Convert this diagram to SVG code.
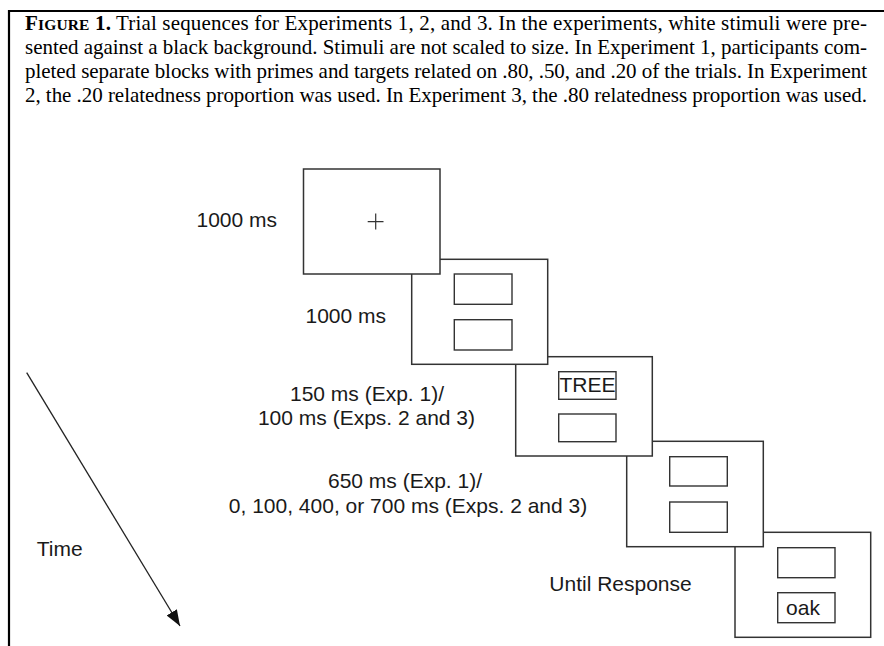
<svg xmlns="http://www.w3.org/2000/svg" width="884" height="646" viewBox="0 0 884 646">
<defs>
<style>
.cap{font-family:"Liberation Serif","Times New Roman",serif;font-size:21px;fill:#000}
.b{font-weight:bold}
.lbl{font-family:"Liberation Sans",Arial,sans-serif;font-size:21px;fill:#1a1a1a}
.scr{fill:#fff;stroke:#333;stroke-width:1.5}
.win{fill:#fff;stroke:#333;stroke-width:1.4}
.frame{stroke:#000;stroke-width:2.2;fill:none}
.conn{stroke:#222;stroke-width:1.3;fill:none}
</style>
<marker id="ahb" viewBox="0 0 16 12" refX="16" refY="6" markerWidth="16" markerHeight="12" markerUnits="userSpaceOnUse" orient="auto">
<path d="M0,0 L16,6 L0,12 z" fill="#111"/>
</marker>
</defs>
<rect x="0" y="0" width="884" height="646" fill="#fff"/>
<g id="frame">
<path class="frame" d="M9,646 V11 H884"/>
</g>
<g id="caption">
<text class="cap" x="25" y="30" textLength="842" lengthAdjust="spacing"><tspan class="b">F</tspan><tspan class="b" font-size="15.5">IGURE</tspan><tspan class="b"> 1.</tspan>  Trial sequences for Experiments 1, 2, and 3. In the experiments, white stimuli were pre-</text>
<text class="cap" x="25" y="54" textLength="842" lengthAdjust="spacing">sented against a black background. Stimuli are not scaled to size. In Experiment 1, participants com-</text>
<text class="cap" x="25" y="78" textLength="842" lengthAdjust="spacing">pleted separate blocks with primes and targets related on .80, .50, and .20 of the trials. In Experiment</text>
<text class="cap" x="25" y="102" textLength="842" lengthAdjust="spacing">2, the .20 relatedness proportion was used. In Experiment 3, the .80 relatedness proportion was used.</text>
</g>
<g id="screen5">
<rect class="scr" x="735" y="532.3" width="135.7" height="105"/>
<rect class="win" x="777.7" y="547.7" width="57.3" height="30"/>
<rect class="win" x="777.7" y="592.7" width="57.3" height="30"/>
<text class="lbl" x="803" y="614.5" font-size="23" text-anchor="middle">oak</text>
</g>
<g id="screen4">
<rect class="scr" x="626.7" y="441.3" width="136.6" height="105.4"/>
<rect class="win" x="669.7" y="456.7" width="57.6" height="29.3"/>
<rect class="win" x="669.7" y="502" width="57.6" height="30.3"/>
</g>
<g id="screen3">
<rect class="scr" x="515.7" y="356.7" width="136.6" height="99.3"/>
<rect class="win" x="558.7" y="371.7" width="57.3" height="27.6"/>
<rect class="win" x="558.7" y="414" width="57.3" height="27.7"/>
<text class="lbl" x="587.5" y="392" font-size="17.5" text-anchor="middle">TREE</text>
</g>
<g id="screen2">
<rect class="scr" x="411.7" y="259.3" width="136" height="105"/>
<rect class="win" x="454.3" y="274" width="57.7" height="30.3"/>
<rect class="win" x="454.3" y="319.7" width="57.7" height="30.3"/>
</g>
<g id="screen1">
<rect class="scr" x="303.5" y="169" width="136.5" height="105"/>
<path d="M367.7,221.7 H383.5 M375.7,213.5 V229.5" stroke="#333" stroke-width="1.2"/>
</g>
<g id="labels">
<text class="lbl" x="196.5" y="226.7" font-size="20.7">1000 ms</text>
<text class="lbl" x="305.5" y="322.7" font-size="20.7">1000 ms</text>
<text class="lbl" x="367" y="401" text-anchor="middle">150 ms (Exp. 1)/</text>
<text class="lbl" x="366.5" y="425" text-anchor="middle">100 ms (Exps. 2 and 3)</text>
<text class="lbl" x="405" y="488" text-anchor="middle">650 ms (Exp. 1)/</text>
<text class="lbl" x="408" y="513" text-anchor="middle" font-size="21.3">0, 100, 400, or 700 ms (Exps. 2 and 3)</text>
<text class="lbl" x="549.3" y="590.7" font-size="21.6">Until Response</text>
<text class="lbl" x="36.7" y="556" font-size="20.3">Time</text>
</g>
<g id="connectors">
<line class="conn" x1="26.7" y1="372.7" x2="180" y2="626" marker-end="url(#ahb)"/>
</g>
</svg>
